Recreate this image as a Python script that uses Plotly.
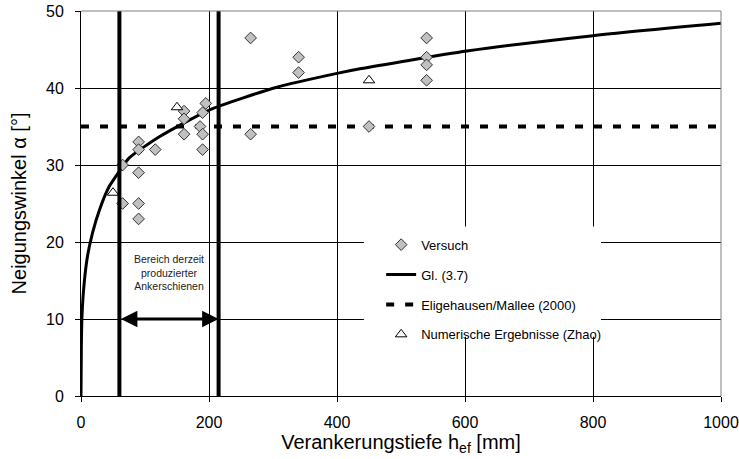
import plotly.graph_objects as go

# --- data ---
versuch_x = [65, 65, 90, 90, 90, 90, 90, 116, 161, 161, 161, 186, 190, 190, 190, 195,
             265, 265, 340, 340, 450, 540, 540, 540, 540]
versuch_y = [30, 25, 33, 32, 29, 25, 23, 32, 37, 36, 34, 35, 36.8, 34, 32, 38,
             46.5, 34, 44, 42, 35, 46.5, 44, 43, 41]

gl_x = [0, 0.5, 1.5, 5, 10, 18, 29, 44, 60, 75, 123, 202, 306, 400, 436, 603, 800, 1000]
gl_y = [0, 6, 10.3, 14.7, 18.1, 21.2, 24.2, 27.2, 29.2, 30.9, 33.7, 37.2, 40.1, 41.9, 42.5, 44.8, 46.8, 48.4]

elig_x = [0, 1000]
elig_y = [35, 35]

zhao_x = [50, 150, 450]
zhao_y = [26.4, 37.5, 41]

range_bounds = [60, 215]   # Bereich derzeit produzierter Ankerschienen
arrow_y = 10
range_label_y = 16.0

x_ticks = [0, 200, 400, 600, 800, 1000]
y_ticks = [0, 10, 20, 30, 40, 50]

FONT = "Liberation Sans, Arial, sans-serif"

fig = go.Figure()

fig.add_trace(go.Scatter(
    x=gl_x, y=gl_y, mode="lines", name="Gl. (3.7)",
    line=dict(color="black", width=3, shape="spline", smoothing=0.6),
    legendgroup="b", legendrank=2))

fig.add_trace(go.Scatter(
    x=elig_x, y=elig_y, mode="lines", name="Eligehausen/Mallee (2000)",
    line=dict(color="black", width=4, dash="8px,11px"),
    legendgroup="c", legendrank=3))

fig.add_trace(go.Scatter(
    x=versuch_x, y=versuch_y, mode="markers", name="Versuch",
    marker=dict(symbol="diamond", size=9, color="#C0C0C0",
                line=dict(color="#333333", width=1)),
    legendgroup="a", legendrank=1))

fig.add_trace(go.Scatter(
    x=zhao_x, y=zhao_y, mode="markers", name="Numerische Ergebnisse (Zhao)",
    marker=dict(symbol="triangle-up", size=10, color="white",
                line=dict(color="black", width=1)),
    legendgroup="d", legendrank=4))

# vertical bounds of the current production range
for xb in range_bounds:
    fig.add_shape(type="line", xref="x", yref="y", x0=xb, x1=xb, y0=0, y1=50,
                  line=dict(color="black", width=4), layer="above")

# double arrow
fig.add_annotation(x=range_bounds[1], y=arrow_y, ax=range_bounds[0], ay=arrow_y,
                   xref="x", yref="y", axref="x", ayref="y", text="",
                   showarrow=True, arrowhead=2, startarrowhead=2, arrowside="end+start",
                   arrowsize=1.1, startarrowsize=1.1, arrowwidth=3, arrowcolor="black")

fig.add_annotation(x=(range_bounds[0] + range_bounds[1]) / 2, y=range_label_y,
                   xref="x", yref="y",
                   text="Bereich derzeit<br>produzierter<br>Ankerschienen",
                   showarrow=False, font=dict(family=FONT, size=10.5, color="#222222"),
                   align="center")

# white legend box (covers the grid behind the legend)
fig.add_shape(type="rect", xref="paper", yref="paper", x0=0.442, x1=0.8125, y0=0.154, y1=0.44,
              fillcolor="white", line=dict(width=0), layer="above")

fig.update_layout(
    width=739, height=459,
    margin=dict(l=81, r=18, t=11, b=63),
    paper_bgcolor="white", plot_bgcolor="white",
    font=dict(family=FONT, color="black"),
    showlegend=True,
    legend=dict(x=0.469, y=0.432, xanchor="left", yanchor="top",
                bgcolor="rgba(0,0,0,0)", borderwidth=0,
                font=dict(family=FONT, size=13, color="black"),
                traceorder="grouped", tracegroupgap=10),
)

fig.update_xaxes(
    range=[0, 1000], tickvals=x_ticks, ticks="outside", ticklen=5, tickcolor="black",
    showgrid=True, gridcolor="black", gridwidth=1, zeroline=False,
    showline=True, linecolor="black", linewidth=1, mirror=False, automargin=False,
    tickfont=dict(family=FONT, size=16), ticklabelstandoff=7,
    title=dict(text="Verankerungstiefe h<sub>ef</sub> [mm]",
               font=dict(family=FONT, size=20), standoff=2),
)
fig.update_yaxes(
    range=[0, 50], tickvals=y_ticks, ticks="outside", ticklen=5, tickcolor="black",
    showgrid=True, gridcolor="black", gridwidth=1, zeroline=False,
    showline=True, linecolor="black", linewidth=1, mirror=False, automargin=False,
    tickfont=dict(family=FONT, size=16), ticklabelstandoff=8,
    title=dict(text="Neigungswinkel α [°]", font=dict(family=FONT, size=20), standoff=14),
)

# grey frame on top and right
fig.add_shape(type="line", xref="paper", yref="paper", x0=0, x1=1, y0=1, y1=1,
              line=dict(color="#808080", width=1))
fig.add_shape(type="line", xref="paper", yref="paper", x0=1, x1=1, y0=0, y1=1,
              line=dict(color="#808080", width=1))

fig.write_html("out.html", config={"displayModeBar": False},
               post_script="document.body.style.margin='0px';")
